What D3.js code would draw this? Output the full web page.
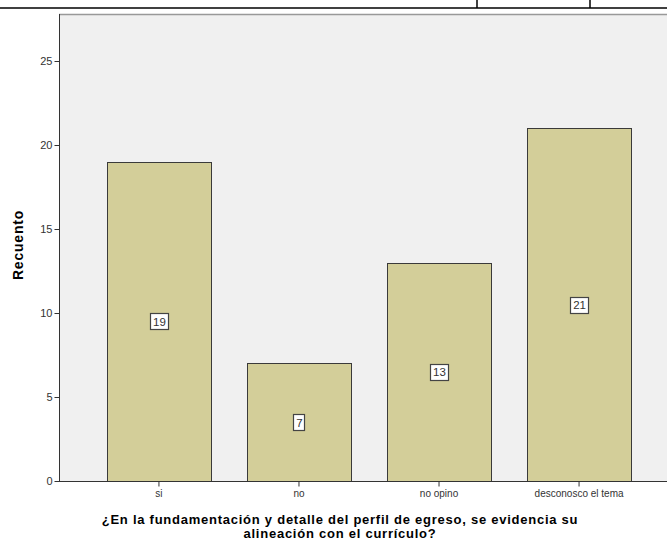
<!DOCTYPE html>
<html><head><meta charset="utf-8">
<script src="https://cdn.jsdelivr.net/npm/d3@7"></script>
<style>body{margin:0;background:#fff}svg{display:block;font-family:"Liberation Sans",Arial,sans-serif}</style>
</head><body><svg id="c" width="667" height="545"></svg>
<script>
const categories = ["si", "no", "no opino", "desconosco el tema"];
const counts = [19, 7, 13, 21];
const yTicks = [0, 5, 10, 15, 20, 25];
const yTitle = "Recuento";
const xTitle = ["¿En la fundamentación y detalle del perfil de egreso, se evidencia su", "alineación con el currículo?"];

const svg = d3.select("#c");
const pLeft = 59, pTop = 14, pBottom = 481, pRight = 700;
const y = d3.scaleLinear().domain([0, 25]).range([pBottom, 61]);
const x = d3.scaleBand().domain(categories).range([89, 649]).paddingInner(0.257).paddingOuter(0.128);

// top table remnants
svg.append("line").attr("x1",0).attr("x2",667).attr("y1",8).attr("y2",8).attr("stroke","#000").attr("stroke-width",1.5);
[477, 590].forEach(v => svg.append("line").attr("x1",v).attr("x2",v).attr("y1",0).attr("y2",8).attr("stroke","#000").attr("stroke-width",1.5));

// plot background
svg.append("rect").attr("x",pLeft).attr("y",pTop).attr("width",pRight-pLeft).attr("height",pBottom-pTop).attr("fill","#f0f0f0");
svg.append("line").attr("x1",pLeft).attr("x2",667).attr("y1",pTop+0.5).attr("y2",pTop+0.5).attr("stroke","#999").attr("stroke-width",1.5);

// bars
svg.selectAll("rect.bar").data(categories).enter().append("rect")
  .attr("x", d => Math.round(x(d)) + 0.5)
  .attr("y", (d,i) => Math.round(y(counts[i])) + 0.5)
  .attr("width", Math.round(x.bandwidth()))
  .attr("height", (d,i) => Math.round(y(0)) - Math.round(y(counts[i])))
  .attr("fill", "#d3ce99").attr("stroke", "#3a3a3a").attr("stroke-width", 1);

// value labels
categories.forEach((d,i) => {
  const cx = x(d) + x.bandwidth()/2, cy = y(counts[i]/2);
  const w = String(counts[i]).length > 1 ? 18 : 11;
  svg.append("rect").attr("x", Math.round(cx - w/2)+0.5).attr("y", Math.round(cy - 8)+0.5).attr("width", w).attr("height", 16)
    .attr("fill", "#fff").attr("stroke", "#444").attr("stroke-width", 1.2);
  svg.append("text").attr("x", cx+0.5).attr("y", cy + 4.5).attr("text-anchor","middle").attr("font-size", 11.5).attr("fill","#333").text(counts[i]);
});

// y axis
const ya = svg.append("g").attr("transform", `translate(${pLeft+0.5},0)`)
  .call(d3.axisLeft(y).tickValues(yTicks).tickSize(5).tickPadding(2));
ya.select(".domain").attr("d", `M0,${pTop}V${pBottom}`).attr("stroke","#333");
ya.selectAll(".tick line").attr("stroke","#333");
ya.selectAll("text").attr("font-size", 11).attr("fill","#333").attr("font-family","Liberation Sans, Arial, sans-serif");

// x axis
const xa = svg.append("g").attr("transform", `translate(0,${pBottom+0.5})`)
  .call(d3.axisBottom(x).tickSize(5).tickPadding(3));
xa.select(".domain").attr("d", `M${pLeft},0H${pRight}`).attr("stroke","#333");
xa.selectAll(".tick line").attr("stroke","#333");
xa.selectAll("text").attr("font-size", 10).attr("fill","#333").attr("font-family","Liberation Sans, Arial, sans-serif");

// titles
svg.append("text").attr("transform", "translate(23,245) rotate(-90)").attr("text-anchor","middle")
  .attr("font-size", 14).attr("letter-spacing", 0.8).attr("font-weight","bold").attr("fill","#000").text(yTitle);
xTitle.forEach((t,i) => svg.append("text").attr("x", 340).attr("y", 524 + i*13.5).attr("text-anchor","middle")
  .attr("font-size", 13).attr("letter-spacing", 0.75).attr("font-weight","bold").attr("fill","#000").text(t));
</script></body></html>
